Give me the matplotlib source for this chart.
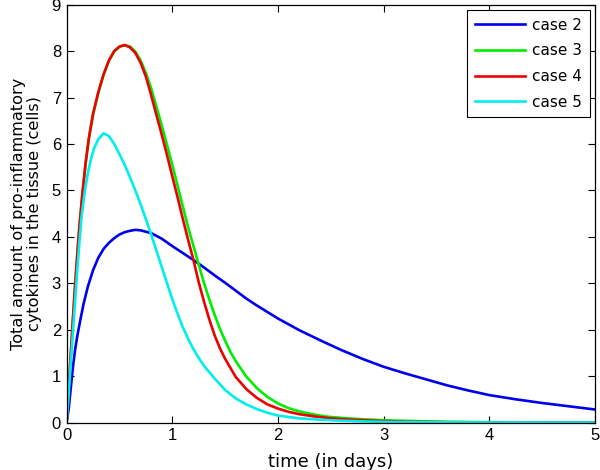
import numpy as np
from matplotlib import pyplot as plt

plt.rcParams['font.family'] = ['Liberation Sans', 'DejaVu Sans']

# case 2 (blue)
t2 = [0, 0.02, 0.04, 0.06, 0.08, 0.1, 0.13, 0.16, 0.2, 0.25, 0.3, 0.35, 0.4,
      0.45, 0.5, 0.55, 0.6, 0.65, 0.7, 0.8, 0.9, 1.0, 1.1, 1.2, 1.3, 1.4, 1.5,
      1.6, 1.7, 1.8, 1.9, 2.0, 2.2, 2.4, 2.6, 2.8, 3.0, 3.2, 3.4, 3.6, 3.8, 4.0,
      4.25, 4.5, 4.75, 5.0]
c2 = [0, 0.3, 0.75, 1.2, 1.56, 1.85, 2.21, 2.55, 2.92, 3.28, 3.55, 3.74, 3.87,
      3.97, 4.05, 4.10, 4.13, 4.15, 4.14, 4.08, 3.96, 3.8, 3.65, 3.5, 3.34, 3.17,
      3.01, 2.84, 2.67, 2.52, 2.38, 2.24, 1.99, 1.77, 1.56, 1.37, 1.2, 1.06, 0.93,
      0.8, 0.69, 0.59, 0.5, 0.42, 0.35, 0.28]

# case 3 (green)
t3 = [0, 0.02, 0.04, 0.06, 0.08, 0.1, 0.12, 0.15, 0.18, 0.21, 0.25, 0.3, 0.35,
      0.4, 0.45, 0.5, 0.55, 0.6, 0.65, 0.7, 0.75, 0.8, 0.85, 0.9, 0.95, 1.0,
      1.05, 1.1, 1.15, 1.2, 1.25, 1.3, 1.35, 1.4, 1.45, 1.5, 1.55, 1.6, 1.7,
      1.8, 1.9, 2.0, 2.1, 2.2, 2.3, 2.45, 2.6, 2.8, 3.0, 3.3, 3.6, 4.0, 5.0]
c3 = [0, 0.74, 1.48, 2.22, 2.92, 3.57, 4.17, 4.92, 5.57, 6.1, 6.63, 7.1, 7.49,
      7.79, 7.99, 8.09, 8.13, 8.1, 7.99, 7.8, 7.53, 7.2, 6.8, 6.4, 5.98, 5.55,
      5.1, 4.65, 4.2, 3.8, 3.4, 3.0, 2.65, 2.32, 2.02, 1.76, 1.52, 1.32, 0.99,
      0.74, 0.55, 0.41, 0.31, 0.24, 0.19, 0.13, 0.1, 0.07, 0.05, 0.03, 0.015,
      0.007, 0]

# case 4 (red)
t4 = [0, 0.02, 0.04, 0.06, 0.08, 0.1, 0.12, 0.15, 0.18, 0.21, 0.25, 0.3, 0.35,
      0.4, 0.45, 0.5, 0.55, 0.6, 0.65, 0.7, 0.75, 0.8, 0.85, 0.9, 0.95, 1.0,
      1.05, 1.1, 1.15, 1.2, 1.25, 1.3, 1.35, 1.4, 1.45, 1.5, 1.6, 1.7, 1.8, 1.9,
      2.0, 2.1, 2.2, 2.35, 2.5, 2.7, 3.0, 3.3, 3.6, 4.0, 5.0]
c4 = [0, 0.75, 1.5, 2.25, 2.95, 3.6, 4.2, 4.95, 5.6, 6.12, 6.65, 7.12, 7.5,
      7.8, 8.0, 8.1, 8.13, 8.08, 7.96, 7.75, 7.45, 7.05, 6.62, 6.2, 5.76, 5.3,
      4.85, 4.38, 3.93, 3.5, 3.02, 2.6, 2.22, 1.88, 1.6, 1.37, 0.98, 0.72, 0.53,
      0.39, 0.3, 0.23, 0.18, 0.13, 0.09, 0.06, 0.03, 0.015, 0.007, 0.003, 0]

# case 5 (cyan)
t5 = [0, 0.02, 0.04, 0.06, 0.08, 0.1, 0.12, 0.14, 0.17, 0.2, 0.23, 0.26, 0.3,
      0.35, 0.4, 0.45, 0.5, 0.55, 0.6, 0.65, 0.7, 0.75, 0.8, 0.85, 0.9, 0.95,
      1.0, 1.05, 1.1, 1.15, 1.2, 1.25, 1.3, 1.4, 1.5, 1.6, 1.7, 1.8, 1.9, 2.0,
      2.2, 2.4, 2.6, 2.8, 3.0, 3.5, 4.0, 5.0]
c5 = [0, 0.65, 1.3, 1.95, 2.6, 3.25, 3.85, 4.4, 4.95, 5.36, 5.67, 5.91, 6.1,
      6.23, 6.17, 6.0, 5.78, 5.55, 5.28, 5.0, 4.7, 4.38, 4.05, 3.7, 3.35, 3.0,
      2.65, 2.34, 2.05, 1.8, 1.58, 1.39, 1.22, 0.95, 0.7, 0.52, 0.39, 0.29,
      0.21, 0.15, 0.09, 0.06, 0.04, 0.025, 0.015, 0.005, 0.002, 0]

fig = plt.figure(figsize=(6, 4.7), dpi=100)
ax = fig.add_axes([0.111, 0.101, 0.881, 0.889])

ax.plot(t2, c2, color='#0000ee', lw=1.9, label='case 2')
ax.plot(t3, c3, color='#00ee00', lw=1.9, label='case 3')
ax.plot(t4, c4, color='#ee0000', lw=1.9, label='case 4')
ax.plot(t5, c5, color='#00eeee', lw=1.9, label='case 5')

ax.set_xlim(0, 5)
ax.set_ylim(0, 9)
ax.set_xticks(np.arange(0, 6, 1))
ax.set_yticks(np.arange(0, 10, 1))
ax.tick_params(direction='in', top=True, right=True, length=5, labelsize=12,
               width=0.8, pad=4)
for s in ax.spines.values():
    s.set_linewidth(0.9)

ax.set_xlabel('time (in days)', fontsize=13, family='DejaVu Sans', labelpad=7)
ax.set_ylabel('Total amount of pro-inflammatory\ncytokines in the tissue (cells)',
              fontsize=11.6, family='DejaVu Sans', labelpad=7, linespacing=1.05)

leg = ax.legend(loc='upper right', handlelength=3.3,
                prop={'family': 'DejaVu Sans', 'size': 11},
                fancybox=False, framealpha=1, edgecolor='k',
                borderaxespad=0.35, labelspacing=0.7, handletextpad=0.45,
                borderpad=0.5)
leg.get_frame().set_linewidth(0.8)

plt.savefig('out.png', dpi=100)
